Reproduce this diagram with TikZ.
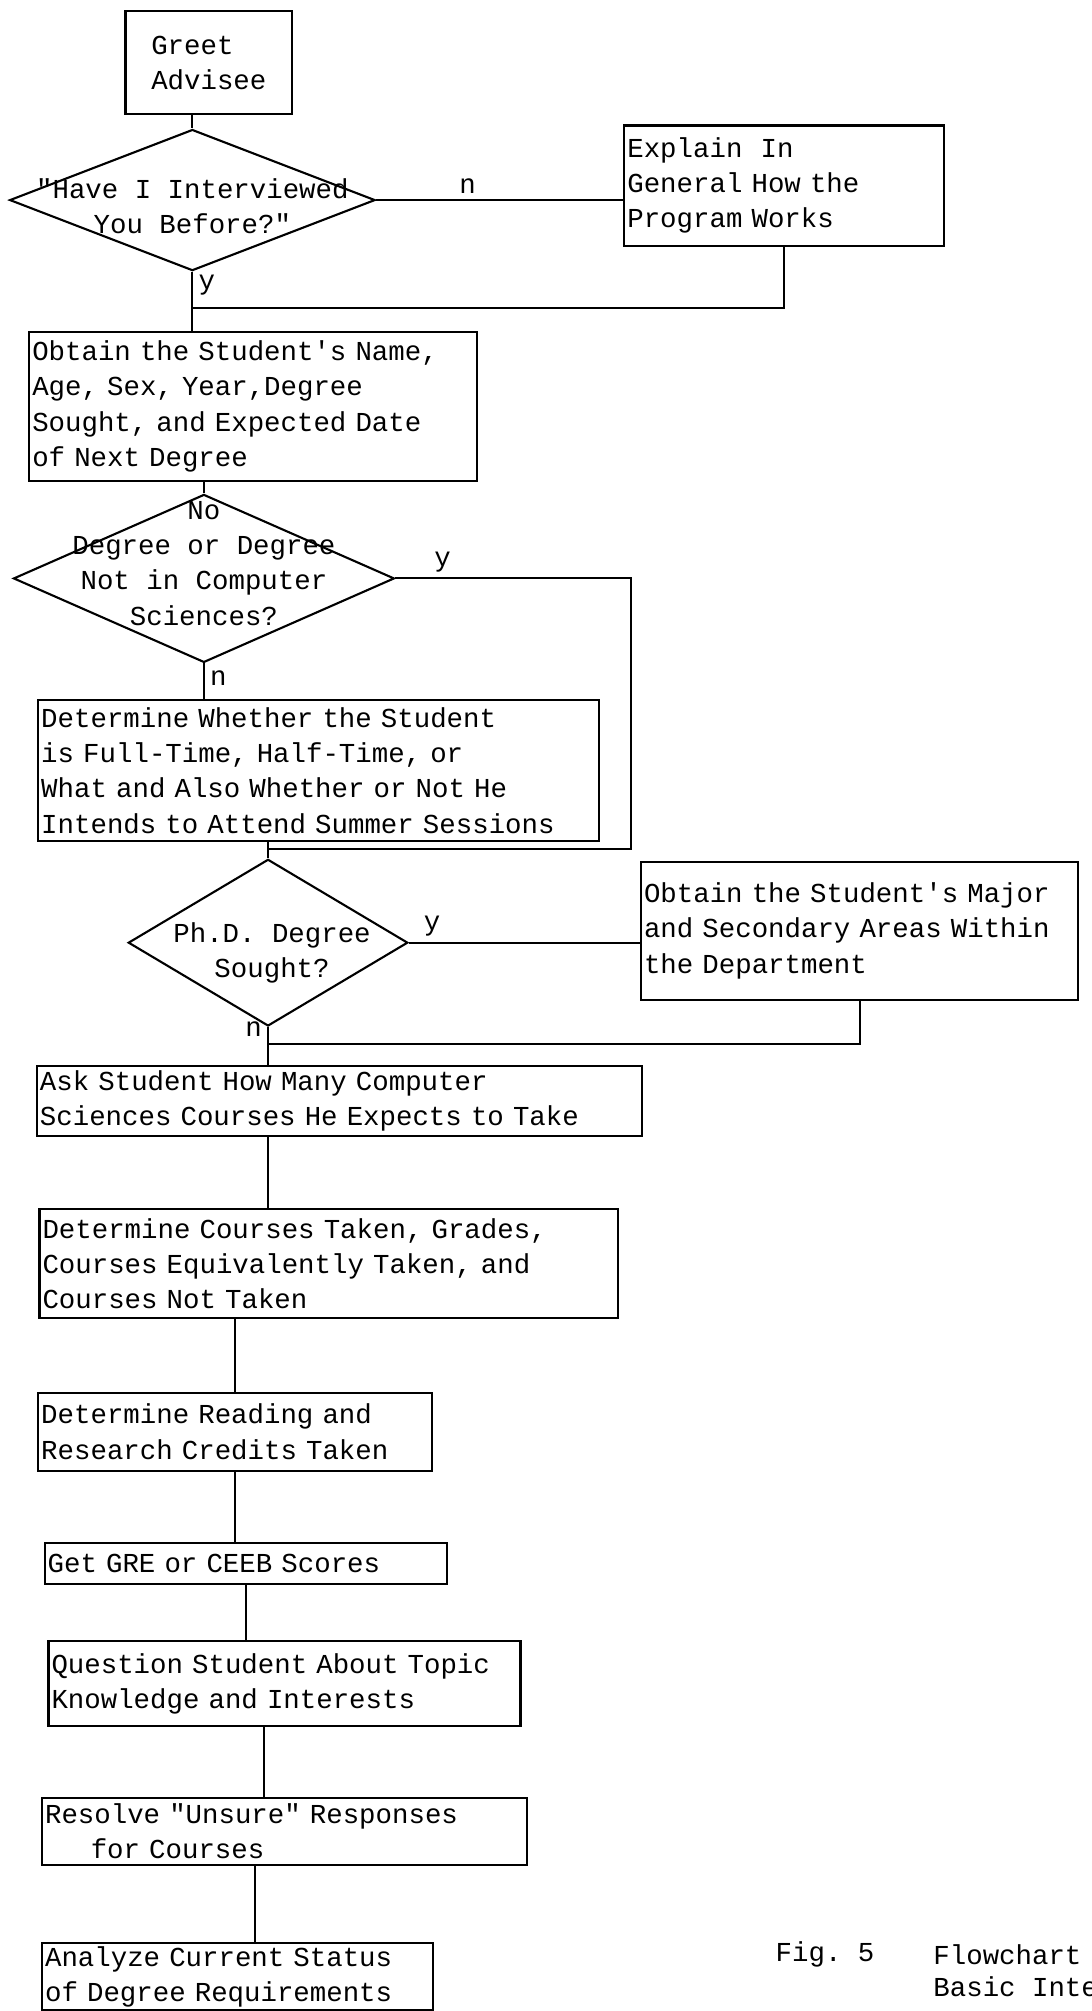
\documentclass[tikz,border=0pt]{standalone}
\usepackage{fontspec}
\setmonofont{Liberation Mono}
\usepackage{tikz}
\usetikzlibrary{shapes,positioning}
\tikzstyle{proc}=[rectangle,fill=white,draw=black,anchor=north west,align=left,inner xsep=0.03cm,inner ysep=1pt,font=\ttfamily\fontsize{7.8}{10}\selectfont]
\tikzstyle{decision}=[diamond,fill=white,draw=black,inner sep=0pt]
\tikzstyle{qtext}=[align=center,inner sep=0pt,font=\ttfamily\fontsize{7.8}{10}\selectfont]
\tikzstyle{lbl}=[inner sep=1.5pt,font=\ttfamily\fontsize{7.8}{10}\selectfont]

\begin{document}
\begin{tikzpicture}[x=0.012832cm,y=-0.012832cm,line width=0.6pt]
		\useasboundingbox (0,0) rectangle (851,1568);

		% opening
		\node[proc,align=left,minimum width=1.668cm,minimum height=1.027cm] (greet) at (97,8) {Greet\\Advisee};
		\node[decision,minimum width=3.657cm,minimum height=1.412cm,
			label={[qtext,yshift=-0.06cm]center:{"Have I Interviewed\\You Before?"}}] (d1) at (150,156) {};
		\node[proc,text width=3.135cm,minimum height=1.206cm] (explain) at (486,97) {Explain~~In\\General How the\\Program Works};
		\coordinate (m1) at (150,240);

		% student data
		\node[proc,text width=4.418cm,minimum height=1.489cm] (name) at (22,258) {Obtain the Student's Name,\\Age, Sex, Year,Degree\\Sought, and Expected Date\\of Next Degree};
		\node[decision,minimum width=3.811cm,minimum height=1.681cm,
			label={[qtext,yshift=0.15cm]center:{No\\Degree or Degree\\Not in Computer\\Sciences?}}] (d2) at (159,451) {};
		\node[proc,text width=5.548cm,minimum height=1.412cm] (whether) at (29,545) {Determine Whether the Student\\is Full-Time, Half-Time, or\\What and Also Whether or Not He\\Intends to Attend Summer Sessions};
		\coordinate (m2) at (492,662);

		%% ph.d. branch
		\node[decision,minimum width=2.797cm,minimum height=1.668cm,
			label={[qtext,yshift=-0.1cm,xshift=0.04cm]center:{Ph.D. Degree\\Sought?}}] (d3) at (209,735) {};
		\node[proc,text width=4.316cm,minimum height=1.386cm] (major) at (499,671) {Obtain the Student's Major\\and Secondary Areas Within\\the Department};
		\coordinate (m3) at (209,814);

		% courses
		\node[proc,text width=5.997cm,minimum height=0.706cm] (ask) at (28,830) {Ask Student How Many Computer\\Sciences Courses He Expects to Take};
		\node[proc,text width=5.727cm,minimum height=1.091cm] (courses) at (30,942) {Determine Courses Taken, Grades,\\Courses Equivalently Taken, and\\Courses Not Taken};
		\node[proc,text width=3.879cm,minimum height=0.783cm] (reading) at (29,1085) {Determine Reading and\\Research Credits Taken};
		\node[proc,text width=3.969cm,minimum height=0.411cm] (gre) at (34,1202) {Get GRE or CEEB Scores};
		\node[proc,text width=4.662cm,minimum height=0.847cm] (question) at (37,1279) {Question Student About Topic\\Knowledge and Interests};
		\node[proc,text width=4.790cm,minimum height=0.667cm] (resolve) at (32,1401) {Resolve "Unsure" Responses\\~~~~~for Courses};
		\node[proc,text width=3.854cm,minimum height=0.667cm] (analyze) at (32,1514) {Analyze Current Status\\of Degree Requirements};

		% caption
		\node[lbl,inner sep=0pt,anchor=west] (fig) at (604,1524) {Fig. 5};
		\node[lbl,inner sep=0pt,anchor=west] (cap1) at (727,1524) {Flowchart};
		\node[lbl,inner sep=0pt,anchor=west] (cap2) at (727,1549) {Basic Inter};

		% Connections
		\draw (greet.south -| d1.north) -- (d1.north);
		\draw (d1.east) -- node[lbl,above,pos=0.37] {n} (d1.east -| explain.west);
		\draw (d1.south) -- node[lbl,right,pos=0.23] {y} (d1.south |- name.north);
		\draw (explain.south) |- (m1);
		\draw (d2.north) -- (d2.north |- name.south);
		\draw (d2.east) -- node[lbl,above,pos=0.2] {y} (d2.east -| m2) -- (m2) -- (m2 -| d3.north);
		\draw (d2.south) -- node[lbl,right,pos=0.4] {n} (d2.south |- whether.north);
		\draw (d3.north) -- (d3.north |- whether.south);
		\draw (d3.east) -- node[lbl,above,pos=0.1] {y} (d3.east -| major.west);
		\draw (major.south) |- (m3);
		\draw (d3.south) -- node[lbl,left,pos=0.05] {n} (d3.south |- ask.north);
		\draw (ask.south -| d3.south) -- (courses.north -| d3.south);
		\draw (reading.north) -- (reading.north |- courses.south);
		\draw (reading.south) -- (reading.south |- gre.north);
		\draw (gre.south) -- (gre.south |- question.north);
		\draw (question.south -| 206,0) -- (resolve.north -| 206,0);
		\draw (resolve.south -| 199,0) -- (analyze.north -| 199,0);
	\end{tikzpicture}
\end{document}
